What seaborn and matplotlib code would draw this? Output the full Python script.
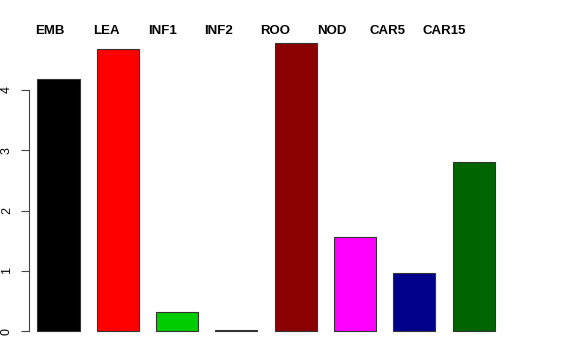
import matplotlib
matplotlib.use("Agg")
import matplotlib.pyplot as plt
import seaborn as sns
import pandas as pd

categories = ["EMB", "LEA", "INF1", "INF2", "ROO", "NOD", "CAR5", "CAR15"]
values = [4.18, 4.68, 0.32, 0.01, 4.78, 1.56, 0.96, 2.80]
colors = ["#000000", "#FF0000", "#00CD00", "#0000FF", "#8B0000", "#FF00FF", "#00008B", "#006400"]
yticks = [0, 1, 2, 3, 4]

sns.set_style("white")
plt.rcParams["font.family"] = ["Liberation Sans", "DejaVu Sans"]
plt.rcParams["text.color"] = "black"
plt.rcParams["ytick.color"] = "black"

W, H = 576, 360
fig = plt.figure(figsize=(W / 100, H / 100), dpi=100)
left_px, right_px, top_px, bot_px = 29, 546, 31.5, 342.5
ax = fig.add_axes([left_px / W, 1 - bot_px / H, (right_px - left_px) / W, (bot_px - top_px) / H])

df = pd.DataFrame({"cat": categories, "val": values})
sns.barplot(data=df, x="cat", y="val", hue="cat", palette=colors, legend=False,
            width=0.71, edgecolor="#333333", linewidth=0.8, ax=ax, saturation=1)

spacing = 59.3
x0 = 58.5
ax.set_xlim((left_px - x0) / spacing, (right_px - x0) / spacing)
ax.set_ylim(-0.19, 4.97)

for s in ["top", "right", "bottom"]:
    ax.spines[s].set_visible(False)
ax.spines["left"].set_bounds(0, 4)
ax.spines["left"].set_color("#444444")
ax.spines["left"].set_linewidth(0.8)
ax.set_yticks(yticks)
ax.set_yticklabels([str(t) for t in yticks], rotation=90, va="center", fontsize=9,
                   color="black")
ax.tick_params(axis="y", left=True, length=5.8, width=0.8, color="#444444", pad=5.8)
ax.set_xticks([])
ax.set_xlabel("")
ax.set_ylabel("")

# category labels above the plot
ylab = 1 + (bot_px - 30.5) / (bot_px - top_px) - 1
for i, c in enumerate(categories):
    xpix = 50 + 56.3 * i
    ax.text((xpix - x0) / spacing, ylab, c, transform=ax.get_xaxis_transform(),
            ha="center", va="center", fontsize=9.5, fontweight="bold",
            color="black", clip_on=False)

fig.savefig("out.png", dpi=100)
